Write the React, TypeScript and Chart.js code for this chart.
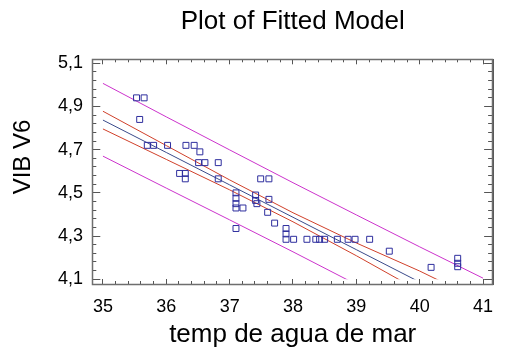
import React, { useEffect, useRef } from "react";
import { Chart, registerables } from "chart.js";

Chart.register(...registerables);

// Observed data: temp de agua de mar vs VIB V6
const tempX = [
  35.53, 35.65, 35.58, 35.7, 35.8, 36.02, 36.31, 36.44, 36.53, 36.51, 36.61, 36.82,
  36.21, 36.3, 36.3, 36.82, 37.49, 37.62, 37.1, 37.1, 37.1, 37.1, 37.21, 37.1,
  37.41, 37.41, 37.43, 37.62, 37.6, 37.71, 37.89, 37.89, 37.89, 38.01, 38.22, 38.36,
  38.42, 38.5, 38.7, 38.87, 38.98, 39.21, 39.52, 40.18, 40.6, 40.6, 40.6,
];
const vibY = [
  4.94, 4.94, 4.84, 4.72, 4.72, 4.72, 4.72, 4.72, 4.69, 4.64, 4.64, 4.64,
  4.59, 4.59, 4.565, 4.565, 4.565, 4.565, 4.5, 4.475, 4.45, 4.43, 4.43, 4.335,
  4.49, 4.465, 4.45, 4.47, 4.41, 4.36, 4.335, 4.31, 4.285, 4.285, 4.285, 4.285,
  4.285, 4.285, 4.285, 4.285, 4.285, 4.285, 4.23, 4.155, 4.197, 4.174, 4.158,
];

// Fitted line, 95% confidence limits and prediction limits
const bandX = [35, 36, 37, 38, 39, 40, 41];
const fitY = [4.837, 4.687, 4.537, 4.387, 4.237, 4.087, 3.937];
const confUpper = [4.878, 4.719, 4.56, 4.408, 4.268, 4.138, 3.995];
const confLower = [4.796, 4.655, 4.514, 4.366, 4.209, 4.045, 3.885];
const predUpper = [5.007, 4.852, 4.699, 4.547, 4.398, 4.25, 4.105];
const predLower = [4.67, 4.522, 4.375, 4.227, 4.076, 3.924, 3.77];

// Axis ranges and ticks
const xRange = [34.832, 41.159];
const yRange = [4.078, 5.1185];
const xTicks = [35, 36, 37, 38, 39, 40, 41];
const yTicks = [4.1, 4.3, 4.5, 4.7, 4.9, 5.1];
const xMinorStep = 0.2;
const yMinorStep = 0.04;

const FONT = "'Liberation Sans', Arial, sans-serif";
const FRAME = "#555555";
const TICK = "#555555";

const toXY = (xs: number[], ys: number[]) => xs.map((x, i) => ({ x, y: ys[i] }));

const minorTicks = (majors: number[], step: number) => {
  const out: number[] = [];
  const n = Math.round((majors[majors.length - 1] - majors[0]) / step);
  for (let i = 0; i <= n; i++) out.push(+(majors[0] + i * step).toFixed(4));
  return out;
};

const overlayPlugin = {
  id: "overlay",
  afterDraw(chart: any) {
    const ctx = chart.ctx;
    const a = chart.chartArea;
    ctx.save();
    ctx.setLineDash([]);
    ctx.globalAlpha = 1;
    ctx.lineWidth = 1.5;
    ctx.strokeStyle = "rgb(110,110,110)";
    ctx.beginPath();
    ctx.rect(Math.round(a.left) + 0.5, Math.round(a.top) + 0.5, Math.round(a.right - a.left) - 1, Math.round(a.bottom - a.top));
    ctx.stroke();
    ctx.fillStyle = "#000";
    ctx.font = `24px ${FONT}`;
    ctx.textAlign = "center";
    ctx.textBaseline = "middle";
    ctx.translate(23, 157);
    ctx.rotate(-Math.PI / 2);
    ctx.fillText("VIB V6", 0, 0);
    ctx.restore();
  },
};

export default function App() {
  const ref = useRef<HTMLCanvasElement | null>(null);

  useEffect(() => {
    if (!ref.current) return;
    const lineDs = (label: string, ys: number[], color: string) => ({
      type: "line" as const,
      label,
      data: toXY(bandX, ys),
      borderColor: color,
      borderWidth: 1,
      pointRadius: 0,
      showLine: true,
      fill: false,
      tension: 0,
      clip: { left: 0, right: 0, top: 0, bottom: -4.7 },
    });

    const axis = (
      dir: "x" | "y",
      position: string,
      weight: number,
      range: number[],
      ticks: number[],
      tickLength: number,
      size: number,
      border: boolean,
      labels: boolean,
      padding: number,
      extra: any = {}
    ) => ({
      type: "linear",
      axis: dir,
      position,
      weight,
      min: range[0],
      max: range[1],
      afterBuildTicks: (s: any) => {
        s.ticks = ticks.map((v) => ({ value: v }));
      },
      afterFit: (s: any) => {
        if (dir === "x") s.height = size;
        else s.width = size;
      },
      grid: {
        display: true,
        drawOnChartArea: false,
        drawTicks: true,
        tickLength,
        tickColor: TICK,
        tickWidth: 1,
      },
      border: { display: border, color: FRAME, width: 1 },
      ticks: {
        display: labels,
        padding,
        color: "#000",
        font: { family: FONT, size: 18 },
        maxRotation: 0,
        autoSkip: false,
        callback: (v: any) =>
          dir === "x" ? String(v) : Number(v).toFixed(1).replace(".", ","),
      },
      ...extra,
    });

    const chart = new Chart(ref.current, {
      type: "scatter",
      data: {
        datasets: [
          {
            label: "VIB V6",
            data: toXY(tempX, vibY),
            pointStyle: "rect",
            pointRadius: 4.2,
            borderColor: "#2e2e9e",
            backgroundColor: "rgba(0,0,0,0)",
            borderWidth: 1,
            showLine: false,
            xAxisID: "x",
            yAxisID: "y",
          } as any,
          lineDs("fit", fitY, "#3a4a8a"),
          lineDs("confU", confUpper, "#d0402a"),
          lineDs("confL", confLower, "#d0402a"),
          lineDs("predU", predUpper, "#cc33cc"),
          lineDs("predL", predLower, "#cc33cc"),
        ],
      },
      options: {
        animation: false,
        responsive: false,
        maintainAspectRatio: false,
        devicePixelRatio: 1,
        layout: { padding: 0 },
        plugins: {
          legend: { display: false },
          tooltip: { enabled: false },
          title: {
            display: true,
            text: "Plot of Fitted Model",
            fullSize: false,
            color: "#000",
            font: { family: FONT, size: 26, weight: "normal", lineHeight: 1.2 },
            padding: { top: 6.1, bottom: 22 },
          },
        },
        scales: {
          x: axis("x", "bottom", 1, xRange, xTicks, -5, 64, true, true, 17.5, {
            title: {
              display: true,
              text: "temp de agua de mar",
              color: "#000",
              font: { family: FONT, size: 26, lineHeight: 1 },
              padding: { top: 0, bottom: 0.5 },
            },
          }),
          xMinor: axis("x", "bottom", 0, xRange, minorTicks(xTicks, xMinorStep), -3, 0, false, false, 0),
          x2: axis("x", "top", 1, xRange, xTicks, -5, 0, true, false, 0),
          x2Minor: axis("x", "top", 0, xRange, minorTicks(xTicks, xMinorStep), -3, 0, false, false, 0),
          y: axis("y", "left", 1, yRange, yTicks, -8, 92.3, true, true, 17.3),
          yMinor: axis("y", "left", 0, yRange, minorTicks(yTicks, yMinorStep), -4, 0, false, false, 0),
          y2: axis("y", "right", 1, yRange, yTicks, -9, 0.5, true, false, 0),
          y2Minor: axis("y", "right", 0, yRange, minorTicks(yTicks, yMinorStep), -5, 0, false, false, 0),
        },
      } as any,
      plugins: [overlayPlugin],
    });
    return () => chart.destroy();
  }, []);

  return (
    <div style={{ position: "absolute", left: 0, top: 0, width: 511, height: 348, background: "#fff" }}>
      <canvas ref={ref} width={511} height={348} style={{ display: "block" }} />
    </div>
  );
}
